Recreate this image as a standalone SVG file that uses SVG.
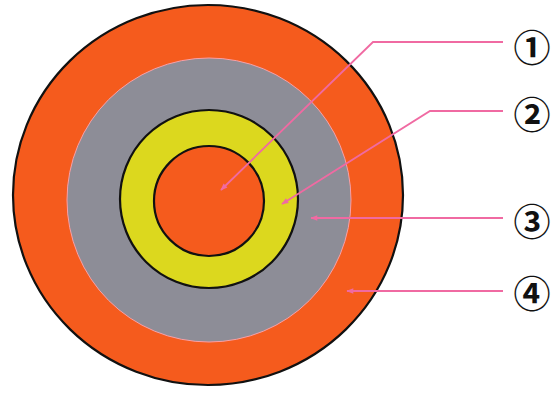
<svg xmlns="http://www.w3.org/2000/svg" width="553" height="394" viewBox="0 0 553 394">
<style>
.orange{fill:#f55b1d}
.gray{fill:#8d8d97}
.yellow{fill:#dcd81e}
.edge{stroke:#111;stroke-width:2.2}
.lead{fill:none;stroke:#f06aa2;stroke-width:1.8}
.num{font-family:"Noto Sans CJK JP","DejaVu Sans",sans-serif;font-size:37px;font-weight:bold;fill:#111;text-anchor:middle;dominant-baseline:central}
</style>
<defs>
<marker id="ah" viewBox="0 0 10 10" refX="9" refY="5" markerWidth="11" markerHeight="7" orient="auto" markerUnits="userSpaceOnUse">
<path d="M0,1 L10,5 L0,9 z" fill="#f06aa2"/>
</marker>
</defs>
<rect width="553" height="394" fill="#fff"/>
<g id="layer4">
<ellipse class="orange edge" cx="208" cy="195" rx="195" ry="190"/>
</g>
<g id="layer3">
<circle class="gray" cx="209" cy="200" r="142" stroke="#f7a0a8" stroke-width="1"/>
</g>
<g id="layer2">
<circle class="yellow edge" cx="209" cy="199" r="89"/>
</g>
<g id="layer1">
<circle class="orange edge" cx="209" cy="201" r="55"/>
</g>
<g id="connectors">
<polyline class="lead" points="503,42 373,42 221,190" marker-end="url(#ah)"/>
<polyline class="lead" points="503,111 430,111 282,204" marker-end="url(#ah)"/>
<polyline class="lead" points="503,218 311,218" marker-end="url(#ah)"/>
<polyline class="lead" points="503,291 347,291" marker-end="url(#ah)"/>
</g>
<g id="label1"><text class="num" x="532" y="46">①</text></g>
<g id="label2"><text class="num" x="532" y="113">②</text></g>
<g id="label3"><text class="num" x="532" y="220">③</text></g>
<g id="label4"><text class="num" x="532" y="292">④</text></g>
</svg>
